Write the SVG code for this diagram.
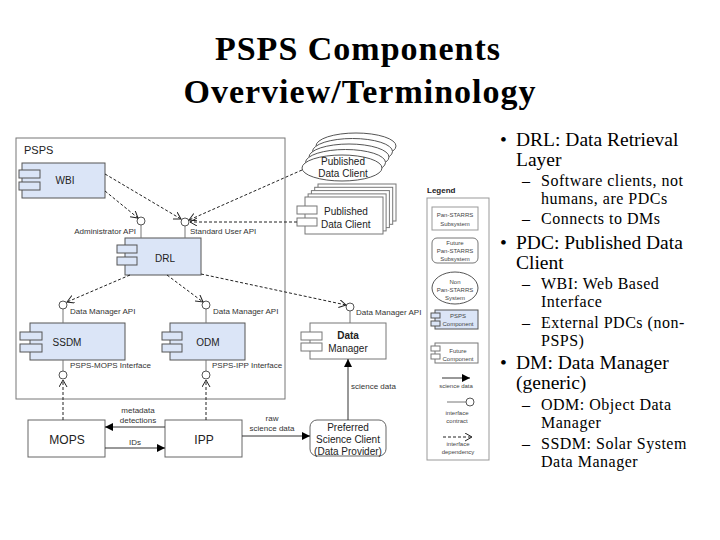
<svg xmlns="http://www.w3.org/2000/svg" width="720" height="540" viewBox="0 0 720 540">
<defs>
<style>
.title{font-family:"Liberation Serif","Times New Roman",serif;font-weight:bold;font-size:34px;letter-spacing:1px;fill:#000}
.b1{font-family:"Liberation Serif","Times New Roman",serif;font-size:19.5px;fill:#000}
.b2{font-family:"Liberation Serif","Times New Roman",serif;font-size:16px;letter-spacing:0.5px;fill:#000}
.lbl{font-family:"Liberation Sans",Arial,sans-serif;font-size:8px;fill:#333}
.nm{font-family:"Liberation Sans",Arial,sans-serif;font-size:10px;fill:#222}
.big{font-family:"Liberation Sans",Arial,sans-serif;font-size:12px;fill:#222}
.lg{font-family:"Liberation Sans",Arial,sans-serif;font-size:6px;fill:#444}
.comp{fill:#dbe5f7;stroke:#555;stroke-width:1}
.wcomp{fill:#fff;stroke:#777;stroke-width:1}
.plain{fill:#fff;stroke:#666;stroke-width:1}
.dep{fill:none;stroke:#222;stroke-width:1;stroke-dasharray:3,2;marker-end:url(#open)}
.flow{fill:none;stroke:#333;stroke-width:1;marker-end:url(#solid)}
.stem{stroke:#777;stroke-width:1}
.lol{fill:#fff;stroke:#555;stroke-width:1}
</style>
<marker id="open" markerWidth="9" markerHeight="9" refX="7" refY="4" orient="auto" markerUnits="userSpaceOnUse"><path d="M0,0 L7,4 L0,8" fill="none" stroke="#222" stroke-width="1"/></marker>
<marker id="solid" markerWidth="9" markerHeight="9" refX="8" refY="4" orient="auto" markerUnits="userSpaceOnUse"><path d="M0,0 L8,4 L0,8 z" fill="#000"/></marker>
</defs>
<rect width="720" height="540" fill="#fff"/>

<g id="title">
<text class="title" x="358" y="60" text-anchor="middle">PSPS Components</text>
<text class="title" x="360" y="103" text-anchor="middle">Overview/Terminology</text>
</g>

<g id="bullets">
<text class="b1" x="500" y="146">•</text>
<text class="b1" x="516" y="146">DRL: Data Retrieval</text>
<text class="b1" x="516" y="166">Layer</text>
<text class="b2" x="522" y="186">–</text>
<text class="b2" x="541" y="186">Software clients, not</text>
<text class="b2" x="541" y="204">humans, are PDCs</text>
<text class="b2" x="522" y="224">–</text>
<text class="b2" x="541" y="224">Connects to DMs</text>
<text class="b1" x="500" y="249">•</text>
<text class="b1" x="516" y="249">PDC: Published Data</text>
<text class="b1" x="516" y="269">Client</text>
<text class="b2" x="522" y="289">–</text>
<text class="b2" x="541" y="289">WBI: Web Based</text>
<text class="b2" x="541" y="307">Interface</text>
<text class="b2" x="522" y="328">–</text>
<text class="b2" x="541" y="328">External PDCs (non-</text>
<text class="b2" x="541" y="346">PSPS)</text>
<text class="b1" x="500" y="369">•</text>
<text class="b1" x="516" y="369">DM: Data Manager</text>
<text class="b1" x="516" y="389">(generic)</text>
<text class="b2" x="522" y="410">–</text>
<text class="b2" x="541" y="410">ODM: Object Data</text>
<text class="b2" x="541" y="428">Manager</text>
<text class="b2" x="522" y="449">–</text>
<text class="b2" x="541" y="449">SSDM: Solar System</text>
<text class="b2" x="541" y="467">Data Manager</text>
</g>

<g id="PSPS">
<rect x="16" y="138" width="269" height="261" fill="#fff" stroke="#777" stroke-width="1"/>
<text x="24" y="154" font-family="Liberation Sans, Arial, sans-serif" font-size="11" fill="#222">PSPS</text>
</g>

<g id="WBI">
<rect class="comp" x="22" y="163" width="83" height="35"/>
<rect class="comp" x="19" y="170" width="21" height="8"/>
<rect class="comp" x="19" y="182" width="21" height="8"/>
<text class="nm" x="65" y="184" text-anchor="middle">WBI</text>
</g>

<g id="DRL">
<rect class="comp" x="125" y="238" width="76" height="37"/>
<rect class="comp" x="117" y="245" width="20" height="8"/>
<rect class="comp" x="117" y="257" width="20" height="8"/>
<text class="nm" x="165" y="262" text-anchor="middle">DRL</text>
</g>

<g id="SSDM">
<rect class="comp" x="30" y="323" width="95" height="37"/>
<rect class="comp" x="20" y="332" width="22" height="8"/>
<rect class="comp" x="20" y="344" width="22" height="8"/>
<text class="nm" x="67" y="346" text-anchor="middle">SSDM</text>
</g>

<g id="ODM">
<rect class="comp" x="170" y="323" width="75" height="37"/>
<rect class="comp" x="162" y="332" width="20" height="8"/>
<rect class="comp" x="162" y="344" width="20" height="8"/>
<text class="nm" x="208" y="346" text-anchor="middle">ODM</text>
</g>

<g id="DataManager">
<rect class="wcomp" x="310" y="323" width="76" height="36"/>
<rect class="wcomp" x="301" y="332" width="21" height="8"/>
<rect class="wcomp" x="301" y="343" width="21" height="8"/>
<text class="nm" x="348" y="339" text-anchor="middle" font-weight="bold">Data</text>
<text class="nm" x="348" y="352" text-anchor="middle">Manager</text>
</g>

<g id="PDC-ellipse">
<ellipse cx="356" cy="146" rx="40" ry="13" fill="#fff" stroke="#555"/>
<ellipse cx="352.5" cy="151.5" rx="40" ry="13" fill="#fff" stroke="#555"/>
<ellipse cx="349" cy="157" rx="40" ry="13" fill="#fff" stroke="#555"/>
<ellipse cx="345.5" cy="162.5" rx="40" ry="13" fill="#fff" stroke="#555"/>
<ellipse cx="342" cy="168" rx="40" ry="13" fill="#fff" stroke="#555"/>
<text class="nm" x="343" y="165" text-anchor="middle">Published</text>
<text class="nm" x="343" y="177" text-anchor="middle">Data Client</text>
</g>

<g id="PDC-component">
<rect class="wcomp" x="318" y="184" width="78" height="37"/>
<rect class="wcomp" x="314.7" y="187.3" width="78" height="37"/>
<rect class="wcomp" x="311.4" y="190.6" width="78" height="37"/>
<rect class="wcomp" x="308.1" y="193.9" width="78" height="37"/>
<rect class="wcomp" x="305" y="197" width="78" height="37"/>
<rect class="wcomp" x="297" y="206" width="20" height="8"/>
<rect class="wcomp" x="297" y="218" width="20" height="8"/>
<text class="nm" x="324" y="215">Published</text>
<text class="nm" x="321" y="228">Data Client</text>
</g>

<g id="MOPS">
<rect class="plain" x="28" y="420" width="77" height="37"/>
<text class="big" x="67" y="444" text-anchor="middle">MOPS</text>
</g>

<g id="IPP">
<rect class="plain" x="165" y="420" width="77" height="37"/>
<text class="big" x="204" y="444" text-anchor="middle">IPP</text>
</g>

<g id="PreferredScienceClient">
<rect class="plain" x="310" y="420" width="76" height="36" rx="7"/>
<text class="nm" x="348" y="431" text-anchor="middle">Preferred</text>
<text class="nm" x="348" y="443" text-anchor="middle">Science Client</text>
<text class="nm" x="348" y="455" text-anchor="middle">(Data Provider)</text>
</g>

<g id="interfaces">
<line class="stem" x1="141" y1="225" x2="141" y2="238"/>
<circle class="lol" cx="141" cy="221" r="4"/>
<text class="lbl" x="136" y="234" text-anchor="end">Administrator API</text>
<line class="stem" x1="185" y1="226" x2="185" y2="238"/>
<circle class="lol" cx="185" cy="222" r="4"/>
<text class="lbl" x="190" y="234">Standard User API</text>
<line class="stem" x1="63" y1="309" x2="63" y2="323"/>
<circle class="lol" cx="63" cy="305" r="4"/>
<text class="lbl" x="70" y="314">Data Manager API</text>
<line class="stem" x1="206" y1="309" x2="206" y2="323"/>
<circle class="lol" cx="206" cy="305" r="4"/>
<text class="lbl" x="213" y="314">Data Manager API</text>
<line class="stem" x1="350" y1="311" x2="350" y2="323"/>
<circle class="lol" cx="350" cy="307" r="4"/>
<text class="lbl" x="356" y="315">Data Manager API</text>
<line class="stem" x1="63" y1="360" x2="63" y2="371"/>
<circle class="lol" cx="63" cy="375" r="4"/>
<text class="lbl" x="70" y="368">PSPS-MOPS Interface</text>
<line class="stem" x1="206" y1="360" x2="206" y2="371"/>
<circle class="lol" cx="206" cy="375" r="4"/>
<text class="lbl" x="212" y="368">PSPS-IPP Interface</text>
</g>

<g id="connectors">
<path class="dep" d="M105,174 L181,219"/>
<path class="dep" d="M105,191 L138,218"/>
<path class="dep" d="M302,170 L189,220"/>
<path class="dep" d="M297,222 L190,222"/>
<path class="dep" d="M130,275 L67,302"/>
<path class="dep" d="M167,275 L203,302"/>
<path class="dep" d="M201,274 L346,305"/>
<path class="dep" d="M63,420 L63,380"/>
<path class="dep" d="M206,420 L206,380"/>
<path class="flow" d="M165,427 L105,427"/>
<path class="flow" d="M105,448 L165,448"/>
<path class="flow" d="M242,436 L310,436"/>
<path class="flow" d="M348,420 L348,359"/>
<text class="lbl" x="138" y="413" text-anchor="middle">metadata</text>
<text class="lbl" x="138" y="423" text-anchor="middle">detections</text>
<text class="lbl" x="135" y="445" text-anchor="middle">IDs</text>
<text class="lbl" x="272" y="421" text-anchor="middle">raw</text>
<text class="lbl" x="272" y="431" text-anchor="middle">science data</text>
<text class="lbl" x="351" y="389">science data</text>
</g>

<g id="legend">
<text x="427" y="193" font-family="Liberation Sans, Arial, sans-serif" font-size="8" font-weight="bold" fill="#222">Legend</text>
<rect x="427" y="198" width="62" height="262" fill="#fff" stroke="#999"/>
<rect x="432" y="207" width="46" height="23" fill="#fff" stroke="#999"/>
<text class="lg" x="455" y="217" text-anchor="middle">Pan-STARRS</text>
<text class="lg" x="455" y="226" text-anchor="middle">Subsystem</text>
<rect x="432" y="238" width="46" height="25" rx="5" fill="#fff" stroke="#777"/>
<text class="lg" x="455" y="245" text-anchor="middle">Future</text>
<text class="lg" x="455" y="253" text-anchor="middle">Pan-STARRS</text>
<text class="lg" x="455" y="261" text-anchor="middle">Subsystem</text>
<ellipse cx="455" cy="288" rx="23" ry="16" fill="#fff" stroke="#555"/>
<text class="lg" x="455" y="284" text-anchor="middle">Non</text>
<text class="lg" x="455" y="292" text-anchor="middle">Pan-STARRS</text>
<text class="lg" x="455" y="300" text-anchor="middle">System</text>
<rect class="comp" x="435" y="310" width="43" height="19"/>
<rect class="comp" x="431" y="313" width="9" height="5"/>
<rect class="comp" x="431" y="321" width="9" height="5"/>
<text class="lg" x="458" y="318" text-anchor="middle">PSPS</text>
<text class="lg" x="458" y="326" text-anchor="middle">Component</text>
<rect class="wcomp" x="435" y="343" width="43" height="20"/>
<rect class="wcomp" x="431" y="346" width="9" height="5"/>
<rect class="wcomp" x="431" y="354" width="9" height="5"/>
<text class="lg" x="458" y="353" text-anchor="middle">Future</text>
<text class="lg" x="458" y="361" text-anchor="middle">Component</text>
<path class="flow" d="M442,378 L470,378"/>
<text class="lg" x="456" y="388" text-anchor="middle">science data</text>
<line class="stem" x1="447" y1="402" x2="466" y2="402"/>
<circle class="lol" cx="470" cy="402" r="4"/>
<text class="lg" x="457" y="415" text-anchor="middle">interface</text>
<text class="lg" x="457" y="423" text-anchor="middle">contract</text>
<path class="dep" d="M443,437 L472,437" stroke="#555"/>
<text class="lg" x="458" y="446" text-anchor="middle">interface</text>
<text class="lg" x="458" y="454" text-anchor="middle">dependency</text>
</g>
</svg>
